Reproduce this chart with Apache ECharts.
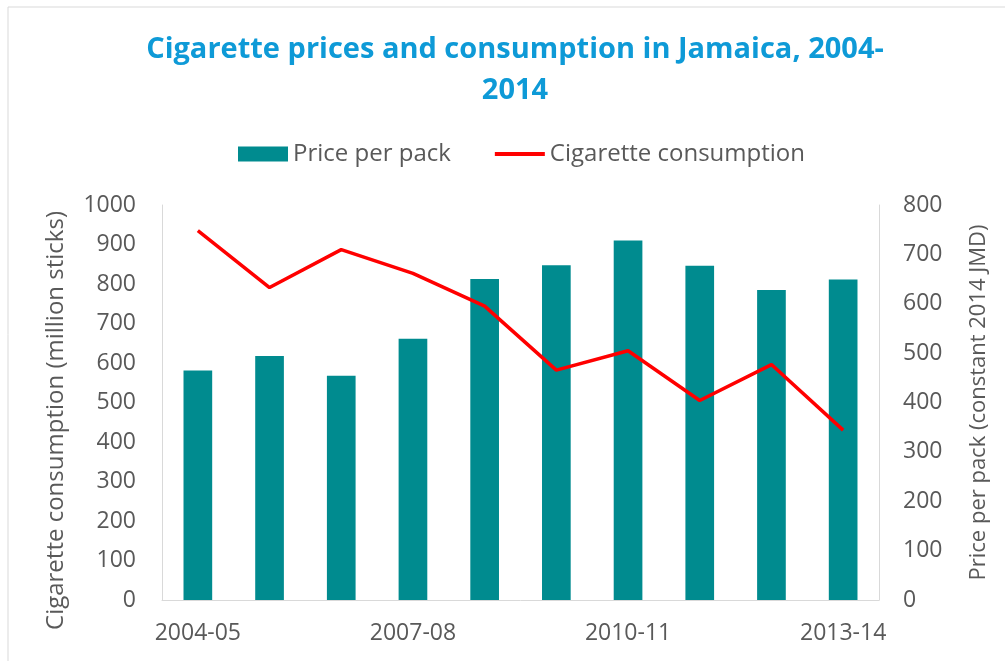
<!DOCTYPE html>
<html>
<head>
<meta charset="UTF-8">
<title>Cigarette prices and consumption in Jamaica</title>
<script src="https://cdn.jsdelivr.net/npm/echarts@6/dist/echarts.min.js"></script>
<style>
    html, body { margin: 0; padding: 0; background: #fff; }
    #chart { width: 1005px; height: 661px; }
</style>
</head>
<body>
<div id="chart"></div>
<script type="text/javascript">
// data
var years = ['2004-05', '2005-06', '2006-07', '2007-08', '2008-09', '2009-10', '2010-11', '2011-12', '2012-13', '2013-14'];
var pricePerPack = [465, 494, 454, 529, 650, 678, 728, 677, 628, 649];          // right axis, JMD
var consumption = [935, 791, 887, 827, 744, 582, 631, 505, 596, 430];            // left axis, million sticks
var leftTicks = [0, 1000, 100];
var rightTicks = [0, 800, 100];

var chart = echarts.init(document.getElementById('chart'));
var font = "'Open Sans', 'Noto Sans', sans-serif";
var grey = '#595959';
var axisGrey = '#d9d9d9';
var plain = function (v) { return String(v); };

var option = {
    animation: false,
    textStyle: { fontFamily: font },
    graphic: [{
        type: 'rect',
        shape: { x: 8, y: 7, width: 1100, height: 700 },
        style: { fill: 'none', stroke: axisGrey, lineWidth: 1 },
        silent: true
    }],
    title: {
        text: 'Cigarette prices and consumption in Jamaica, 2004-\n2014',
        left: 510,
        top: 24,
        textAlign: 'center',
        textStyle: {
            fontFamily: font,
            fontSize: 29,
            fontWeight: 'bold',
            color: '#0E9AD7',
            lineHeight: 41
        }
    },
    legend: {
        top: 137,
        left: 233,
        itemWidth: 50,
        itemHeight: 15,
        itemGap: 42,
        textStyle: { fontFamily: font, fontSize: 24, color: grey },
        data: [
            { name: 'Price per pack', icon: 'rect' },
            { name: 'Cigarette consumption', itemStyle: { opacity: 0 }, lineStyle: { width: 4, color: '#FF0000' } }
        ]
    },
    grid: { left: 162, right: 126, top: 205, bottom: 61 },
    xAxis: {
        type: 'category',
        data: years,
        axisTick: { show: false },
        axisLine: { lineStyle: { color: axisGrey } },
        axisLabel: { interval: 2, margin: 22, fontSize: 23, color: grey, fontFamily: font }
    },
    yAxis: [
        {
            type: 'value',
            min: leftTicks[0], max: leftTicks[1], interval: leftTicks[2],
            name: 'Cigarette consumption (million sticks)',
            nameLocation: 'middle',
            nameGap: 94,
            nameTextStyle: { fontSize: 24, color: grey, fontFamily: font, padding: [0, 36, 0, 0] },
            axisLine: { show: true, lineStyle: { color: axisGrey } },
            axisTick: { show: false },
            splitLine: { show: false },
            axisLabel: { margin: 26, fontSize: 23, color: grey, fontFamily: font, formatter: plain }
        },
        {
            type: 'value',
            min: rightTicks[0], max: rightTicks[1], interval: rightTicks[2],
            name: 'Price per pack (constant 2014 JMD)',
            nameLocation: 'middle',
            nameGap: 89,
            nameTextStyle: { fontSize: 22, color: grey, fontFamily: font },
            axisLine: { show: true, lineStyle: { color: axisGrey } },
            axisTick: { show: false },
            splitLine: { show: false },
            axisLabel: { margin: 24, fontSize: 23, color: grey, fontFamily: font, formatter: plain }
        }
    ],
    series: [
        {
            name: 'Price per pack',
            type: 'bar',
            yAxisIndex: 1,
            barWidth: '40%',
            itemStyle: { color: '#008B8F' },
            data: pricePerPack
        },
        {
            name: 'Cigarette consumption',
            type: 'line',
            yAxisIndex: 0,
            symbol: 'none',
            lineStyle: { color: '#FF0000', width: 3.5 },
            itemStyle: { color: '#FF0000' },
            data: consumption
        }
    ]
};

chart.setOption(option);
</script>
</body>
</html>
